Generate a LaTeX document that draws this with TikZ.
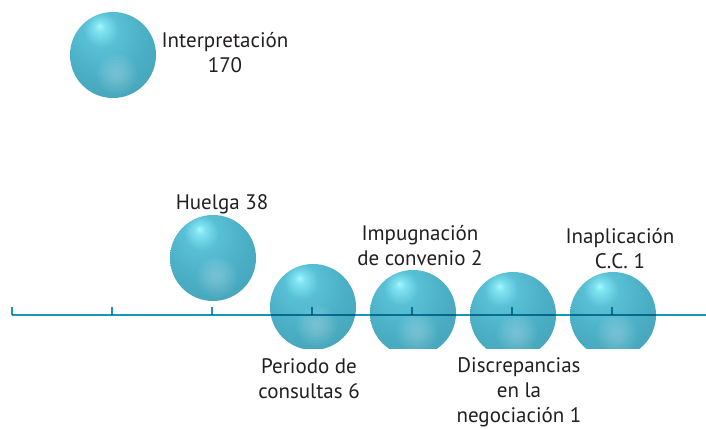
\documentclass[tikz,border=0pt]{standalone}
\usepackage{fontspec}
\setmainfont{PT Sans}
\definecolor{axisc}{HTML}{1399B4}
\definecolor{txt}{HTML}{231F20}
\definecolor{sA}{HTML}{A2F8FF}
\definecolor{sB}{HTML}{7FE2F0}
\definecolor{sC}{HTML}{58C0D5}
\definecolor{sD}{HTML}{4BAFC5}
\definecolor{sE}{HTML}{44A0B5}
\definecolor{sF}{HTML}{357E8D}
\definecolor{sG}{HTML}{2F6672}
\definecolor{sH}{HTML}{3E8999}
\definecolor{sI}{HTML}{62C6D8}
\pgfdeclareradialshading{sphereshade}{\pgfpoint{-8bp}{17bp}}{%
  color(0bp)=(sA); color(3bp)=(sB); color(10bp)=(sC); color(24bp)=(sD);
  color(42bp)=(sE); color(54bp)=(sF); color(60bp)=(sG); color(65bp)=(sH); color(70bp)=(sI)}
\tikzset{
  sphere/.style={circle, minimum size=86pt, inner sep=0pt, shading=sphereshade,
    path picture={\foreach \r in {20,17,14,11,8,5}{
      \fill[white, opacity=0.045] ([shift={(4,19)}]path picture bounding box.center) circle (\r);}}},
  lbl/.style={align=center, text=txt, font=\fontsize{21}{25}\selectfont, inner sep=0pt, anchor=base},
  axisline/.style={draw=axisc, line width=2pt},
  tickline/.style={draw=axisc, line width=1.8pt}
}
\begin{document}
\begin{tikzpicture}[x=1pt,y=-1pt]
\useasboundingbox[fill=white] (0,0) rectangle (706,428);
% spheres
\node[sphere] (s1) at (113,55) {};
\node[sphere] (s2) at (213,258) {};
\node[sphere] (s3) at (313,307) {};
\node[sphere] (s4) at (413,313) {};
\node[sphere] (s5) at (513,315) {};
\node[sphere] (s6) at (613,315) {};
% axis
\coordinate (a0) at (12,315);
\coordinate (aend) at (706,315);
\foreach \i/\x in {0/12,1/112,2/212,3/312,4/412,5/512,6/612}{
  \coordinate (tb\i) at (\x,315);
  \coordinate (tt\i) at (\x,307);
}
\begin{scope}[blend mode=multiply]
\draw[axisline] (a0) -- (aend);
\foreach \i in {0,...,6}{\draw[tickline] (tb\i) -- (tt\i);}
\end{scope}
% white band under the axis row
\fill[white] (0,349) rectangle (706,428);
% labels (anchor base = baseline of the last line)
\node[lbl] (t1) at (225,72.5) {Interpretación\\170};
\node[lbl] (t2) at (222,209) {Huelga 38};
\node[lbl] (t3) at (420,265.5) {Impugnación\\de convenio 2};
\node[lbl] (t4) at (620,268) {Inaplicación\\C.C. 1};
\node[lbl] (t5) at (309,398.5) {Periodo de\\consultas 6};
\node[lbl] (t6) at (519,422) {Discrepancias\\en la\\negociación 1};
\end{tikzpicture}
\end{document}
